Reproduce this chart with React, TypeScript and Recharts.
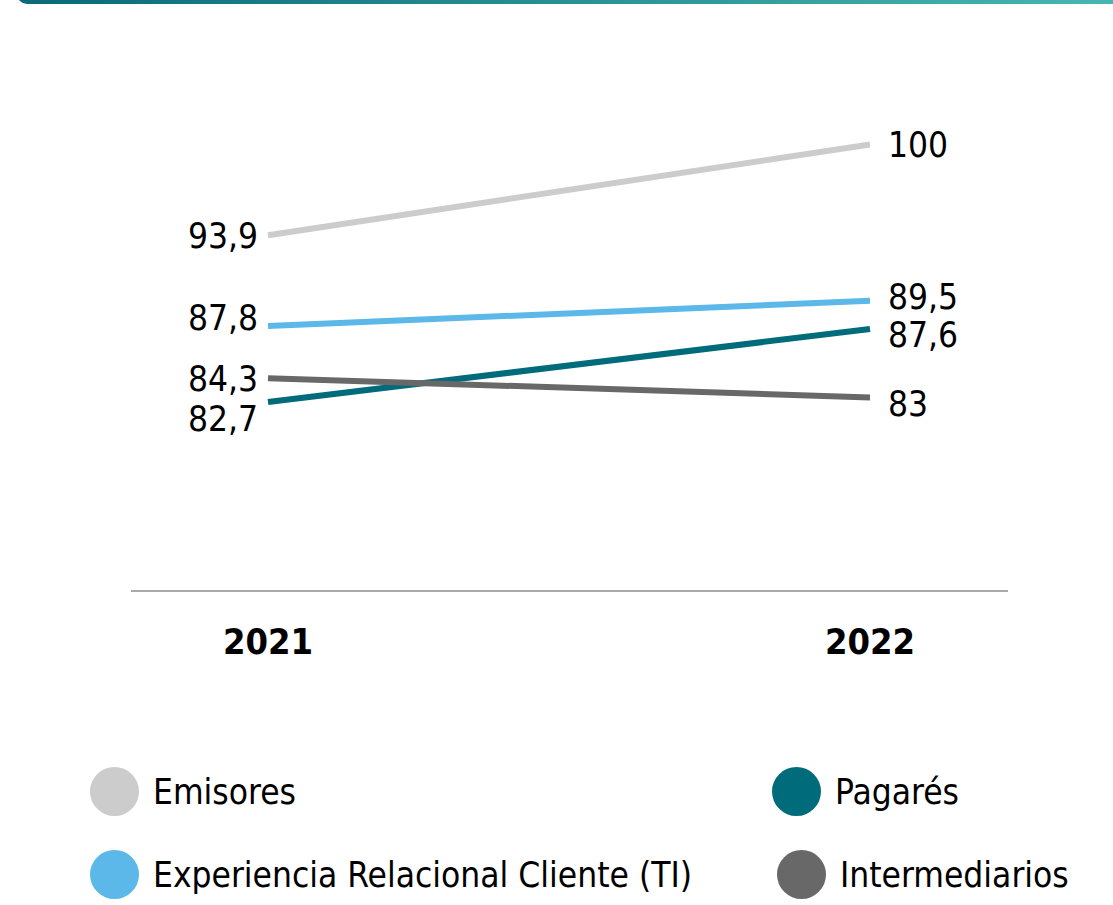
import React from 'react';
import { LineChart, Line, XAxis, YAxis, LabelList } from 'recharts';

const years = ['2021', '2022'];
const emisores = [93.9, 100];
const experiencia = [87.8, 89.5];
const pagares = [82.7, 87.6];
const intermediarios = [84.3, 83];

const seriesNames = ['Emisores', 'Experiencia Relacional Cliente (TI)', 'Pagarés', 'Intermediarios'];
const seriesKeys = ['emisores', 'experiencia', 'pagares', 'intermediarios'];
const seriesValues = [emisores, experiencia, pagares, intermediarios];
const seriesColors = ['#CCCCCC', '#5BB8E8', '#006B7A', '#686868'];
// vertical nudges for the value labels [left, right]
const labelNudge = [[0, 0], [-9, -4], [16, 5], [0, 6]];

const data = years.map((y, i) => {
  const row: any = { year: y };
  seriesKeys.forEach((k, s) => { row[k] = seriesValues[s][i]; });
  return row;
});

const FONT = '"DejaVu Sans Condensed", "DejaVu Sans", Tahoma, sans-serif';

const fmt = (v: number) => String(v).replace('.', ',');

const makeLabel = (s: number) => (props: any) => {
  const { x, y, value, index } = props;
  const left = index === 0;
  return (
    <text
      x={left ? x - 10 : x + 18}
      y={y + labelNudge[s][index]}
      dy="0.36em"
      textAnchor={left ? 'end' : 'start'}
      fontFamily={FONT}
      fontSize={35}
      fill="#000"
    >
      {fmt(value)}
    </text>
  );
};

const YearTick = (props: any) => {
  const { x, y, payload } = props;
  return (
    <text x={x} y={y + 55} textAnchor="middle" fontFamily={FONT} fontWeight="bold" fontSize={36} fill="#000">
      {payload.value}
    </text>
  );
};

const legendPos = [
  { left: 90, top: 767 },
  { left: 90, top: 850 },
  { left: 772, top: 767 },
  { left: 777, top: 850 },
];

export default function App() {
  return (
    <div style={{ position: 'absolute', left: 0, top: 0, width: 1113, height: 905, background: '#fff', overflow: 'hidden' }}>
      <div
        style={{
          position: 'absolute',
          left: 17,
          top: -10,
          width: 1120,
          height: 14,
          borderBottomLeftRadius: 10,
          background: 'linear-gradient(to right, #0A6A78, #48B9B2)',
        }}
      />
      <div style={{ position: 'absolute', left: 0, top: 0 }}>
        <LineChart width={1113} height={700} data={data} margin={{ top: 70, right: 105, bottom: 29, left: 131 }}>
          <XAxis
            dataKey="year"
            scale="point"
            padding={{ left: 137, right: 138 }}
            axisLine={{ stroke: '#8C8C8C', strokeWidth: 1.5 }}
            tickLine={false}
            tick={<YearTick />}
            height={80}
            interval={0}
          />
          <YAxis hide domain={[70, 105]} width={0} />
          {seriesKeys.map((k, s) => (
            <Line
              key={k}
              dataKey={k}
              stroke={seriesColors[s]}
              strokeWidth={6}
              dot={false}
              activeDot={false}
              isAnimationActive={false}
            >
              <LabelList dataKey={k} content={makeLabel(s)} />
            </Line>
          ))}
        </LineChart>
      </div>
      {seriesNames.map((n, s) => (
        <div
          key={n}
          style={{
            position: 'absolute',
            left: legendPos[s].left,
            top: legendPos[s].top,
            display: 'flex',
            alignItems: 'center',
            fontFamily: FONT,
            fontSize: 35,
            color: '#000',
            whiteSpace: 'nowrap',
          }}
        >
          <span
            style={{
              display: 'inline-block',
              width: 49,
              height: 49,
              borderRadius: '50%',
              background: seriesColors[s],
              marginRight: 14,
            }}
          />
          <span>{n}</span>
        </div>
      ))}
    </div>
  );
}
